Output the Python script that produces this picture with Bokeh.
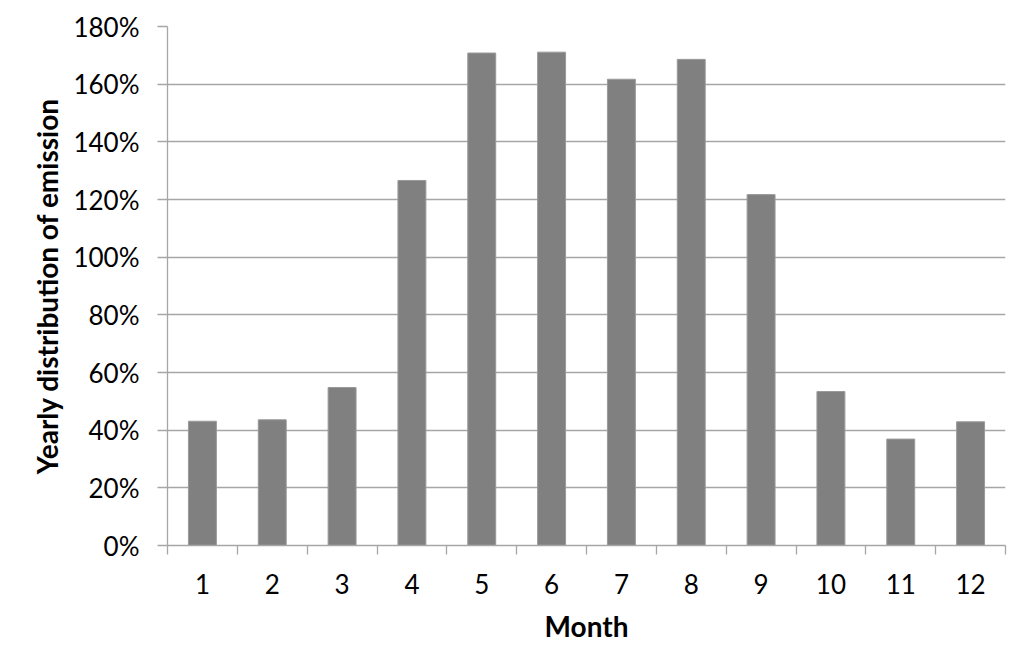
from bokeh.plotting import figure
from bokeh.models import FixedTicker, Range1d, CustomJSTickFormatter
from bokeh.embed import file_html
from bokeh.resources import INLINE

months = [1, 2, 3, 4, 5, 6, 7, 8, 9, 10, 11, 12]
month_labels = ["1", "2", "3", "4", "5", "6", "7", "8", "9", "10", "11", "12"]
emission_pct = [43.1, 43.6, 54.8, 126.6, 170.8, 171.1, 161.7, 168.6, 121.7, 53.4, 36.9, 42.9]
y_ticks = [0, 20, 40, 60, 80, 100, 120, 140, 160, 180]

FONT = "Lato"

p = figure(width=1016, height=645, output_backend="svg", toolbar_location=None,
           x_range=Range1d(0.5, 12.5), y_range=Range1d(0, 180),
           min_border_left=167, min_border_right=11, min_border_top=26, min_border_bottom=100)

p.vbar(x=months, top=emission_pct, width=0.4, fill_color="#808080",
       line_color="#9a9a9a", line_width=1)

p.outline_line_color = None
p.xgrid.grid_line_color = None
p.ygrid.grid_line_color = "#a6a6a6"
p.ygrid.grid_line_width = 1.3
p.ygrid.ticker = FixedTicker(ticks=y_ticks)

# x axis
p.xaxis.ticker = FixedTicker(ticks=months, minor_ticks=[m - 0.5 for m in months] + [12.5])
p.xaxis.major_label_overrides = {m: l for m, l in zip(months, month_labels)}
p.xaxis.major_tick_line_color = None
p.xaxis.minor_tick_out = 9
p.xaxis.minor_tick_in = 0
p.xaxis.minor_tick_line_color = "#a6a6a6"
p.xaxis.minor_tick_line_width = 1.3
p.xaxis.axis_line_color = "#a6a6a6"
p.xaxis.axis_line_width = 1.3
p.xaxis.major_label_standoff = 19
p.xaxis.axis_label = "Month"
p.xaxis.axis_label_standoff = 12

# y axis
p.yaxis.ticker = FixedTicker(ticks=y_ticks)
p.yaxis.formatter = CustomJSTickFormatter(code="return tick.toFixed(0) + '%';")
p.yaxis.major_tick_out = 10
p.yaxis.major_tick_in = 0
p.yaxis.major_tick_line_color = "#a6a6a6"
p.yaxis.major_tick_line_width = 1.3
p.yaxis.minor_tick_line_color = None
p.yaxis.axis_line_color = "#a6a6a6"
p.yaxis.axis_line_width = 1.3
p.yaxis.major_label_standoff = 18
p.yaxis.axis_label = "Yearly distribution of emission"
p.yaxis.axis_label_standoff = 6

for ax in (p.xaxis, p.yaxis):
    ax.major_label_text_font = FONT
    ax.major_label_text_font_size = "26px"
    ax.major_label_text_color = "#000000"
    ax.axis_label_text_font = FONT
    ax.axis_label_text_font_size = "28px"
    ax.axis_label_text_font_style = "bold"
    ax.axis_label_text_color = "#000000"

open("out.html", "w").write(file_html(p, INLINE))
